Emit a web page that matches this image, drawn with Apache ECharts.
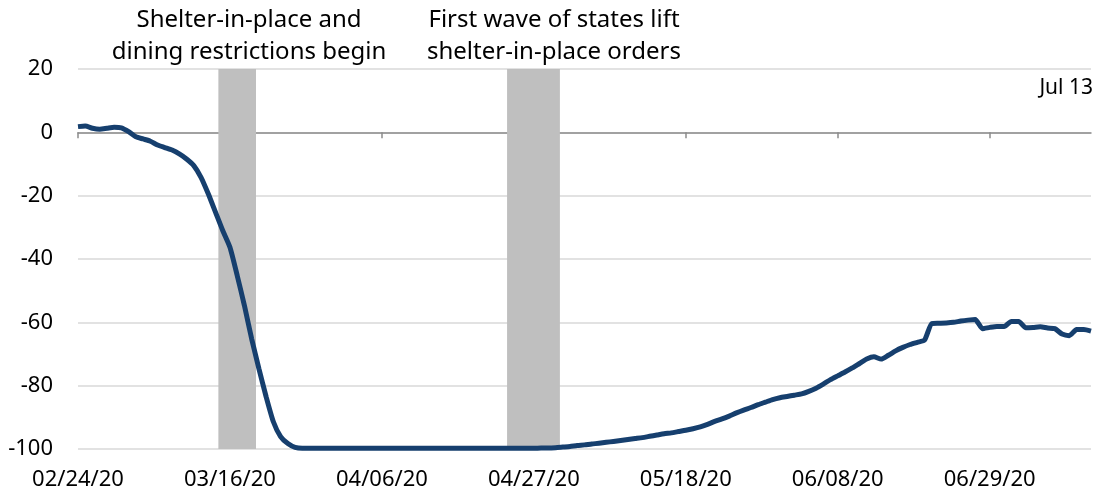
<!DOCTYPE html>
<html>
<head>
<meta charset="utf-8">
<script src="https://cdn.jsdelivr.net/npm/echarts@6/dist/echarts.min.js"></script>
<style>
html,body{margin:0;padding:0;background:#fff;}
#chart{width:1097px;height:500px;}
</style>
</head>
<body>
<div id="chart"></div>
<script>
// Day index 0 = 02/24/20, index 140 = 07/13/20 (daily)
const tickIndex = [0, 21, 42, 63, 84, 105, 126];
const tickLabels = ['02/24/20', '03/16/20', '04/06/20', '04/27/20', '05/18/20', '06/08/20', '06/29/20'];
const yTicks = [20, 0, -20, -40, -60, -80, -100];

const values = [
  1.8, 2.0, 1.3, 1.0, 1.3, 1.6, 1.4, 0.2, -1.4, -2.1,
  -2.8, -4.0, -4.8, -5.6, -6.8, -8.4, -10.5, -14.2, -19.4, -25.2,
  -31.0, -36.3, -45.2, -54.7, -65.2, -74.6, -83.5, -91.4, -96.1, -98.3,
  -99.5, -99.8, -99.8, -99.8, -99.8, -99.8, -99.8, -99.8, -99.8, -99.8,
  -99.8, -99.8, -99.8, -99.8, -99.8, -99.8, -99.8, -99.8, -99.8, -99.8,
  -99.8, -99.8, -99.8, -99.8, -99.8, -99.8, -99.8, -99.8, -99.8, -99.8,
  -99.8, -99.8, -99.8, -99.8, -99.7, -99.7, -99.6, -99.4, -99.2, -98.9,
  -98.7, -98.4, -98.2, -97.9, -97.6, -97.3, -97.0, -96.7, -96.4, -96.0,
  -95.6, -95.2, -94.9, -94.5, -94.1, -93.6, -93.0, -92.2, -91.3, -90.5,
  -89.6, -88.6, -87.7, -86.9, -86.0, -85.2, -84.4, -83.8, -83.4, -83.0,
  -82.6, -81.8, -80.8, -79.5, -78.1, -76.9, -75.7, -74.4, -73.0, -71.6,
  -70.9, -71.6, -70.4, -69.0, -67.9, -67.0, -66.3, -65.6, -60.4, -60.3,
  -60.2, -60.0, -59.6, -59.3, -59.1, -62.0, -61.6, -61.3, -61.3, -59.7,
  -59.7, -61.7, -61.6, -61.4, -61.8, -62.0, -63.7, -64.2, -62.3, -62.3,
  -62.8
];

// Shaded event periods, in day-index units
const bandStart = [19.4, 59.3];
const bandEnd = [24.6, 66.6];
const annotations = [
  'Shelter-in-place and\ndining restrictions begin',
  'First wave of states lift\nshelter-in-place orders'
];
const endLabel = 'Jul 13';

const FONT = '"Noto Sans", sans-serif';
const chart = echarts.init(document.getElementById('chart'), null, {renderer: 'canvas'});

const seriesData = values.map((v, i) => [i, v]);
const lastIndex = values.length - 1;

const option = {
  animation: false,
  backgroundColor: '#ffffff',
  grid: {left: 78, right: 6, top: 69, bottom: 51, containLabel: false},
  xAxis: [
    {
      type: 'value', min: 0, max: lastIndex, interval: 21, position: 'bottom',
      axisLine: {show: false, onZero: false},
      axisTick: {show: false},
      splitLine: {show: false},
      axisLabel: {
        customValues: tickIndex,
        formatter: v => tickLabels[tickIndex.indexOf(v)] || '',
        color: '#000', fontFamily: FONT, fontSize: 22, margin: 20
      }
    },
    {
      type: 'value', min: 0, max: lastIndex, interval: 21, position: 'bottom',
      axisLine: {show: true, onZero: true, lineStyle: {color: '#8c8c8c', width: 1.5}},
      axisTick: {show: true, customValues: tickIndex, length: 6, inside: false, lineStyle: {color: '#8c8c8c', width: 1.5}},
      axisLabel: {show: false},
      splitLine: {show: false}
    }
  ],
  yAxis: {
    type: 'value', min: -100, max: 20, interval: 20,
    axisLine: {show: false},
    axisTick: {show: false},
    axisLabel: {color: '#000', fontFamily: FONT, fontSize: 22, margin: 25},
    splitLine: {lineStyle: {color: '#d9d9d9', width: 1.5}}
  },
  series: [{
    type: 'line',
    xAxisIndex: 0,
    data: seriesData,
    showSymbol: false,
    smooth: 0.2,
    lineStyle: {color: '#163f6e', width: 5},
    z: 3,
    markArea: {
      silent: true,
      itemStyle: {color: '#bfbfbf'},
      data: bandStart.map((s, k) => [{xAxis: s}, {xAxis: bandEnd[k]}])
    }
  }],
  graphic: [
    {
      type: 'text', x: 249, y: 4,
      style: {text: annotations[0], font: '24px ' + FONT, fill: '#000', textAlign: 'center', textVerticalAlign: 'top', lineHeight: 32}
    },
    {
      type: 'text', x: 554, y: 4,
      style: {text: annotations[1], font: '24px ' + FONT, fill: '#000', textAlign: 'center', textVerticalAlign: 'top', lineHeight: 32}
    },
    {
      type: 'text', x: 1093, y: 78,
      style: {text: endLabel, font: '21px ' + FONT, fill: '#000', textAlign: 'right', textVerticalAlign: 'top'}
    }
  ]
};
chart.setOption(option);
</script>
</body>
</html>
